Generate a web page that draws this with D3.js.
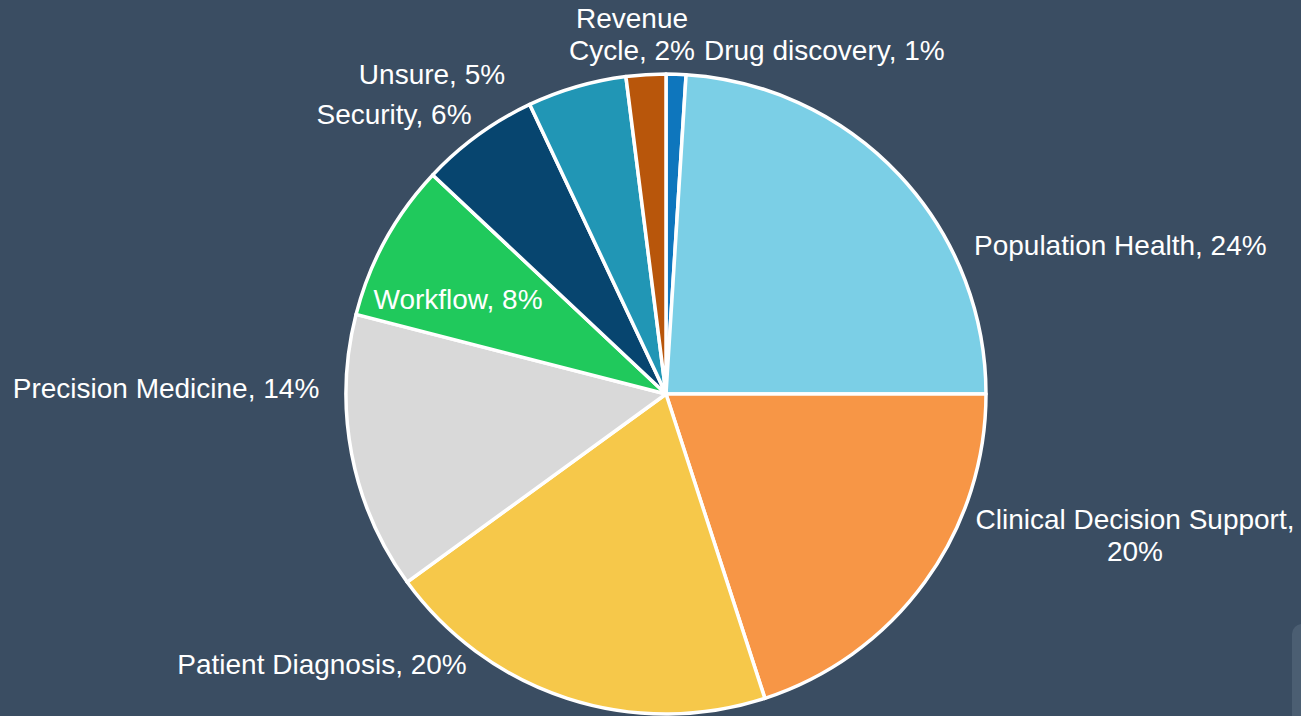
<!DOCTYPE html>
<html>
<head>
<meta charset="utf-8">
<script src="https://cdn.jsdelivr.net/npm/d3@7/dist/d3.min.js"></script>
<style>
  html, body { margin: 0; padding: 0; background: #3a4d62; overflow: hidden; }
  svg { display: block; }
  text { font-family: "Liberation Sans", Arial, sans-serif; fill: #ffffff; }
</style>
</head>
<body>
<svg id="chart" width="1301" height="716"></svg>
<script>
// AI use-case shares, clockwise from 12 o'clock
const categories = ["Drug discovery", "Population Health", "Clinical Decision Support",
  "Patient Diagnosis", "Precision Medicine", "Workflow", "Security", "Unsure", "Revenue Cycle"];
const shares = [1, 24, 20, 20, 14, 8, 6, 5, 2];
const sliceColors = ["#0e76bd", "#7bcfe6", "#f79646", "#f6c84a", "#d9d9d9",
  "#20c95c", "#07456f", "#2196b5", "#b8560b"];
// label lines for each slice
const labelLines = [
  ["Drug discovery, 1%"],
  ["Population Health, 24%"],
  ["Clinical Decision Support,", "20%"],
  ["Patient Diagnosis, 20%"],
  ["Precision Medicine, 14%"],
  ["Workflow, 8%"],
  ["Security, 6%"],
  ["Unsure, 5%"],
  ["Revenue", "Cycle, 2%"]
];

const W = 1301, H = 716;
const cx = 666, cy = 394, R = 320;

const svg = d3.select("#chart");
svg.append("rect").attr("width", W).attr("height", H).attr("fill", "#3a4d62");

// faint rounded tab at the bottom-right edge
svg.append("rect").attr("x", 1292).attr("y", 624).attr("width", 30).attr("height", 120)
  .attr("rx", 10).attr("fill", "#4b5e72");

const data = categories.map((c, i) => ({ name: c, value: shares[i], color: sliceColors[i], lines: labelLines[i] }));

const pie = d3.pie().value(d => d.value).sort(null);
const arcs = pie(data);
const arc = d3.arc().innerRadius(0).outerRadius(R);

const g = svg.append("g").attr("transform", `translate(${cx},${cy})`);
g.selectAll("path").data(arcs).join("path")
  .attr("d", arc)
  .attr("fill", d => d.data.color)
  .attr("stroke", "#ffffff")
  .attr("stroke-width", 3.5)
  .attr("stroke-linejoin", "round");

// label anchor points
const labelPos = {
  "Drug discovery": { x: 704, y: 60, anchor: "start" },
  "Population Health": { x: 974, y: 255, anchor: "start" },
  "Clinical Decision Support": { x: 1135, y: 529, anchor: "middle" },
  "Patient Diagnosis": { x: 322, y: 674, anchor: "middle" },
  "Precision Medicine": { x: 166, y: 398, anchor: "middle" },
  "Workflow": { x: 458, y: 309, anchor: "middle" },
  "Security": { x: 394, y: 124, anchor: "middle" },
  "Unsure": { x: 432, y: 84, anchor: "middle" },
  "Revenue Cycle": { x: 632, y: 28, anchor: "middle" }
};

const labels = svg.append("g").attr("font-size", 28);
arcs.forEach(a => {
  const p = labelPos[a.data.name];
  const t = labels.append("text")
    .attr("x", p.x).attr("y", p.y)
    .attr("text-anchor", p.anchor);
  a.data.lines.forEach((ln, i) => {
    t.append("tspan").attr("x", p.x).attr("dy", i === 0 ? 0 : 32).text(ln);
  });
});
</script>
</body>
</html>
